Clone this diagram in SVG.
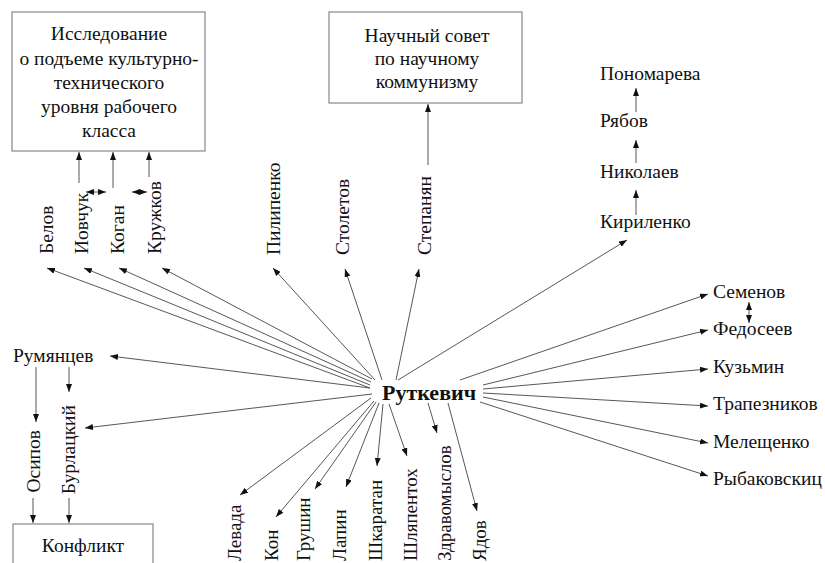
<svg xmlns="http://www.w3.org/2000/svg" width="825" height="563" viewBox="0 0 825 563">
<defs>
<marker id="ah" viewBox="0 0 8 6" refX="8" refY="3" markerWidth="8" markerHeight="6" markerUnits="userSpaceOnUse" orient="auto-start-reverse">
<path d="M0,0 L8,3 L0,6 z" fill="#111"/>
</marker>
<style>
text{font-family:"Liberation Serif","Times New Roman",serif;font-size:19.5px;fill:#111}
.c{text-anchor:middle}
.b{font-weight:bold;font-size:22px}
.box{fill:#fff;stroke:#888;stroke-width:1.2}
.e{stroke:#444;stroke-width:0.9;fill:none;marker-end:url(#ah)}
.d{stroke:#444;stroke-width:0.9;fill:none;marker-end:url(#ah);marker-start:url(#ah)}
.v{text-anchor:start}
.ve{text-anchor:end}
.vb{text-anchor:start;font-size:19px}
</style>
</defs>
<rect width="825" height="563" fill="#fff"/>

<g id="connectors">
<line class="e" x1="370" y1="388" x2="47" y2="268"/>
<line class="e" x1="370" y1="385" x2="84" y2="268"/>
<line class="e" x1="371" y1="382" x2="119" y2="268"/>
<line class="e" x1="372" y1="379" x2="162" y2="268"/>
<line class="e" x1="375" y1="380" x2="273" y2="268"/>
<line class="e" x1="382" y1="380" x2="345" y2="269"/>
<line class="e" x1="396" y1="380" x2="419" y2="269"/>
<line class="e" x1="398" y1="380" x2="627" y2="240"/>
<line class="e" x1="370" y1="388" x2="110" y2="356"/>
<line class="e" x1="372" y1="394" x2="85" y2="428"/>
<line class="e" x1="460" y1="380" x2="708" y2="294"/>
<line class="e" x1="483" y1="385" x2="708" y2="330"/>
<line class="e" x1="483" y1="389" x2="708" y2="369"/>
<line class="e" x1="483" y1="393" x2="708" y2="406"/>
<line class="e" x1="483" y1="397" x2="708" y2="443"/>
<line class="e" x1="480" y1="402" x2="708" y2="476"/>
<line class="e" x1="371" y1="398" x2="240" y2="495"/>
<line class="e" x1="374" y1="401" x2="276" y2="517"/>
<line class="e" x1="376" y1="402" x2="315" y2="489"/>
<line class="e" x1="379" y1="403" x2="346" y2="487"/>
<line class="e" x1="383" y1="404" x2="377" y2="466"/>
<line class="e" x1="389" y1="404" x2="407" y2="456"/>
<line class="e" x1="428" y1="403" x2="437" y2="433"/>
<line class="e" x1="448" y1="403" x2="477" y2="511"/>
<line class="e" x1="79" y1="183" x2="79" y2="152"/>
<line class="e" x1="113" y1="188" x2="113" y2="152"/>
<line class="e" x1="149" y1="177" x2="149" y2="152"/>
<line class="e" x1="428" y1="165" x2="428" y2="104"/>
<line class="d" x1="86" y1="192" x2="106" y2="192"/>
<line class="d" x1="132" y1="192" x2="147" y2="192"/>
<line class="e" x1="636" y1="215" x2="636" y2="190"/>
<line class="e" x1="636" y1="163" x2="636" y2="140"/>
<line class="e" x1="636" y1="112" x2="636" y2="88"/>
<line class="d" x1="749" y1="302" x2="749" y2="323"/>
<line class="e" x1="36" y1="367" x2="36" y2="422"/>
<line class="e" x1="69" y1="367" x2="69" y2="392"/>
<line class="e" x1="33" y1="498" x2="33" y2="523"/>
<line class="e" x1="69" y1="498" x2="69" y2="523"/>
</g>

<g font-family="Liberation Serif, serif">
<g id="n-issledovanie">
<rect class="box" x="12" y="12" width="193" height="139"/>
<text class="c" x="109" y="40">Исследование</text>
<text class="c" x="109" y="65">о подъеме культурно-</text>
<text class="c" x="109" y="89">технического</text>
<text class="c" x="109" y="113">уровня рабочего</text>
<text class="c" x="109" y="137">класса</text>
</g>
<g id="n-sovet">
<rect class="box" x="329" y="12" width="193" height="91"/>
<text class="c" x="427" y="42">Научный совет</text>
<text class="c" x="427" y="65">по научному</text>
<text class="c" x="427" y="88">коммунизму</text>
</g>
<g id="n-konflikt">
<rect class="box" x="13" y="524" width="140" height="50"/>
<text class="c" x="83" y="552">Конфликт</text>
</g>
<g id="n-rutkevich"><text class="b" x="382" y="400">Руткевич</text></g>

<g id="n-belov"><text class="v" transform="translate(53,254) rotate(-90)">Белов</text></g>
<g id="n-iovchuk"><text class="v" transform="translate(88,254) rotate(-90)">Иовчук</text></g>
<g id="n-kogan"><text class="v" transform="translate(124,254) rotate(-90)">Коган</text></g>
<g id="n-kruzhkov"><text class="v" transform="translate(161,254) rotate(-90)">Кружков</text></g>
<g id="n-pilipenko"><text class="v" transform="translate(280,255) rotate(-90)">Пилипенко</text></g>
<g id="n-stoletov"><text class="v" transform="translate(349,255) rotate(-90)">Столетов</text></g>
<g id="n-stepanyan"><text class="v" transform="translate(431,255) rotate(-90)">Степанян</text></g>

<g id="n-ponomareva"><text x="600" y="80">Пономарева</text></g>
<g id="n-ryabov"><text x="600" y="127">Рябов</text></g>
<g id="n-nikolaev"><text x="600" y="178">Николаев</text></g>
<g id="n-kirilenko"><text x="600" y="228">Кириленко</text></g>

<g id="n-semenov"><text x="713" y="298">Семенов</text></g>
<g id="n-fedoseev"><text x="713" y="335">Федосеев</text></g>
<g id="n-kuzmin"><text x="713" y="373">Кузьмин</text></g>
<g id="n-trapeznikov"><text x="713" y="410">Трапезников</text></g>
<g id="n-meleshchenko"><text x="713" y="448">Мелещенко</text></g>
<g id="n-rybakovskits"><text x="713" y="485">Рыбаковскиц</text></g>

<g id="n-rumyantsev"><text x="13" y="362">Румянцев</text></g>
<g id="n-osipov"><text class="ve" transform="translate(40,430) rotate(-90)">Осипов</text></g>
<g id="n-burlatsky"><text class="ve" transform="translate(75,405) rotate(-90)">Бурлацкий</text></g>

<g id="n-levada"><text class="vb" transform="translate(241,561) rotate(-90)">Левада</text></g>
<g id="n-kon"><text class="vb" transform="translate(278,561) rotate(-90)">Кон</text></g>
<g id="n-grushin"><text class="vb" transform="translate(310,561) rotate(-90)">Грушин</text></g>
<g id="n-lapin"><text class="vb" transform="translate(346,561) rotate(-90)">Лапин</text></g>
<g id="n-shkaratan"><text class="vb" transform="translate(382,561) rotate(-90)">Шкаратан</text></g>
<g id="n-shlyapentokh"><text class="vb" transform="translate(417,561) rotate(-90)">Шляпентох</text></g>
<g id="n-zdravomyslov"><text class="vb" transform="translate(451,561) rotate(-90)">Здравомыслов</text></g>
<g id="n-yadov"><text class="vb" transform="translate(486,561) rotate(-90)">Ядов</text></g>
</g>
</svg>
